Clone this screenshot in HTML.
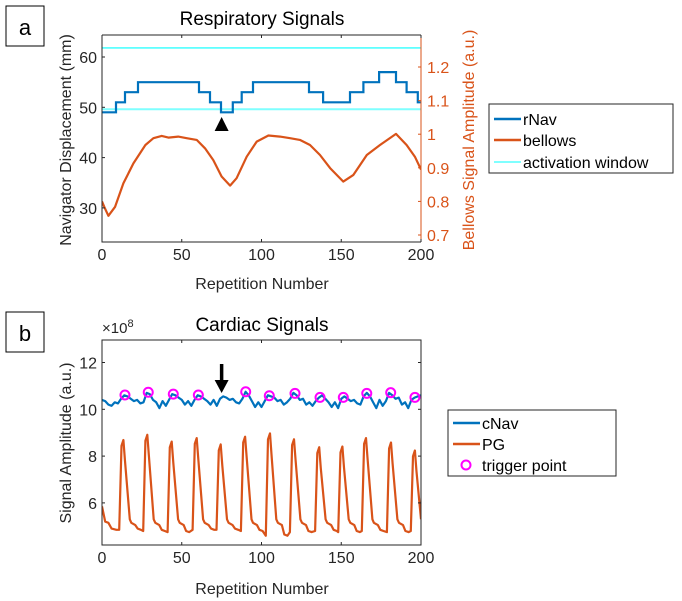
<!DOCTYPE html>
<html><head><meta charset="utf-8"><style>
body{margin:0;background:#fff;}
svg{display:block;font-family:"Liberation Sans","Noto Sans CJK JP",sans-serif;}
</style></head><body>
<svg id="fig" width="682" height="601" viewBox="0 0 682 601">
<rect x="6" y="6" width="38" height="40" fill="#fff" stroke="#000" stroke-width="1"/>
<text x="25" y="35" font-size="22" text-anchor="middle">a</text>
<rect x="6" y="312" width="38" height="40" fill="#fff" stroke="#000" stroke-width="1"/>
<text x="25" y="341" font-size="22" text-anchor="middle">b</text>
<text x="262" y="25" font-size="19" text-anchor="middle">Respiratory Signals</text>
<text x="262" y="331" font-size="19" text-anchor="middle">Cardiac Signals</text>
<text x="262" y="289" font-size="16" text-anchor="middle" fill="#262626">Repetition Number</text>
<text x="262" y="594" font-size="16" text-anchor="middle" fill="#262626">Repetition Number</text>
<text transform="translate(71,140) rotate(-90)" font-size="16" text-anchor="middle" fill="#262626">Navigator Displacement (mm)</text>
<text transform="translate(474,140) rotate(-90)" font-size="16" text-anchor="middle" fill="#D95319">Bellows Signal Amplitude (a.u.)</text>
<text transform="translate(71,443) rotate(-90)" font-size="16" text-anchor="middle" fill="#262626">Signal Amplitude (a.u.)</text>
<text x="102" y="333" font-size="15" fill="#262626">×10<tspan font-size="11" dy="-6">8</tspan></text>
<g id="top"></g>
<g id="bot"></g>
<g>
<rect x="489" y="104" width="184" height="69" fill="#fff" stroke="#262626" stroke-width="1"/>
<line x1="494" y1="119" x2="521" y2="119" stroke="#0072BD" stroke-width="2.5"/>
<text x="523" y="125" font-size="16">rNav</text>
<line x1="494" y1="140" x2="521" y2="140" stroke="#D95319" stroke-width="2.5"/>
<text x="523" y="146" font-size="16">bellows</text>
<line x1="494" y1="162" x2="521" y2="162" stroke="#7FFFFF" stroke-width="2"/>
<text x="523" y="168" font-size="16">activation window</text>
</g>
<g>
<rect x="448" y="410" width="168" height="66" fill="#fff" stroke="#262626" stroke-width="1"/>
<line x1="453" y1="423" x2="480" y2="423" stroke="#0072BD" stroke-width="2.5"/>
<text x="482" y="429" font-size="16">cNav</text>
<line x1="453" y1="444" x2="480" y2="444" stroke="#D95319" stroke-width="2.5"/>
<text x="482" y="450" font-size="16">PG</text>
<circle cx="466" cy="465" r="4.5" fill="none" stroke="#FF00FF" stroke-width="2"/>
<text x="482" y="471" font-size="16">trigger point</text>
</g>
</svg>
<script>
const xTicks=[0,50,100,150,200];
const leftTicksTop=[30,40,50,60];
const rightTicksTop=[0.7,0.8,0.9,1.0,1.1,1.2];
const rightTickLabels=["0.7","0.8","0.9","1","1.1","1.2"];
const windowLevels=[61.8,49.6];
const rnavStepReps=[0,8.8,14.4,22.6,60.8,67.7,74.6,82,87.6,94.7,129.8,138.6,155.5,163.9,173.7,184.3,191,198,200];
const rnavStepVals=[49,51,53,55,53,51,49,51,53,55,53,51,53,55,57,55,53,51,51];
const bellowsReps=[0,1.9,4,8.2,13.4,19.7,27.2,32.2,37.4,41.6,47.8,53.1,59.4,64.6,69.8,75,80.3,84.4,90.7,97,104.3,111.6,117.9,124.1,130.4,136.7,143,151.3,157.6,166,174.3,184.3,191,196.2,200];
const bellowsVals=[0.80,0.779,0.757,0.784,0.854,0.913,0.968,0.988,0.995,0.990,0.993,0.988,0.983,0.958,0.923,0.874,0.847,0.869,0.933,0.978,0.996,0.993,0.988,0.983,0.968,0.938,0.899,0.859,0.879,0.938,0.968,1.001,0.968,0.933,0.895];
const triggerReps=[14.4,29,44.7,60.4,90.1,104.9,121,136.7,151.3,166,181,196.2];
const triggerVals=[10.61,10.73,10.65,10.61,10.75,10.58,10.68,10.51,10.51,10.68,10.71,10.51];
const cnavVals=[10.4,10.35,10.2,10.15,10.3,10.25,10.45,10.6,10.55,10.45,10.35,10.4,10.25,10.3,10.7,10.65,10.4,10.3,10.05,10.35,10.15,10.4,10.65,10.6,10.5,10.4,10.2,10.35,10.15,10.4,10.6,10.55,10.45,10.35,10.2,10.4,10.15,10.45,10.55,10.5,10.4,10.45,10.3,10.25,10.45,10.75,10.6,10.35,10.1,10.3,10.1,10.35,10.6,10.55,10.5,10.35,10.4,10.2,10.3,10.45,10.7,10.6,10.4,10.45,10.2,10.3,10.15,10.35,10.5,10.6,10.45,10.3,10.1,10.3,10.05,10.45,10.55,10.45,10.35,10.4,10.25,10.2,10.55,10.7,10.55,10.3,10.05,10.4,10.15,10.35,10.7,10.6,10.45,10.5,10.2,10.3,10.05,10.4,10.5,10.55,10.6];
const pgPeakReps=[13.4,28.4,43.7,59.4,74.4,89.7,105.3,120.4,136.2,150.7,165.5,181.2,196.2];
const pgPeakVals=[8.69,8.91,8.62,8.77,8.50,8.83,8.97,8.72,8.38,8.41,8.77,8.58,8.24];
const pgTroughVals=[4.85,4.8,4.75,4.85,4.85,4.8,4.6,4.75,4.8,4.75,4.8,4.75,4.8];
const leftTicksBot=[6,8,10,12];

const NS="http://www.w3.org/2000/svg";
function mk(p,t,a){const e=document.createElementNS(NS,t);for(const k in a)e.setAttribute(k,a[k]);p.appendChild(e);return e;}
const X0=102,X1=421;
const xs=v=>X0+(v/200)*(X1-X0);
const yT=v=>57+(60-v)*5.03;
const yR=v=>67+(1.2-v)*336;
const yB=v=>409.3+(10-v)*23.4;
const TT=35,TB=242,BT=340,BB=545;
const T=document.getElementById('top');
const B=document.getElementById('bot');
const defs=mk(document.getElementById('fig'),'defs',{});
const c1=mk(defs,'clipPath',{id:'c1'});mk(c1,'rect',{x:X0,y:TT,width:X1-X0,height:TB-TT});
const c2=mk(defs,'clipPath',{id:'c2'});mk(c2,'rect',{x:X0,y:BT,width:X1-X0,height:BB-BT});

function xAxis(g,top,bot){
  xTicks.forEach(t=>{
    const x=xs(t);
    mk(g,'line',{x1:x,x2:x,y1:bot,y2:bot-3,stroke:'#262626','stroke-width':1});
    mk(g,'line',{x1:x,x2:x,y1:top,y2:top+3,stroke:'#262626','stroke-width':1});
    const tx=mk(g,'text',{x:x,y:bot+18,'font-size':16,'text-anchor':'middle',fill:'#262626'});
    tx.textContent=t;
    
    
  });
}
// top panel
function path(pts){return pts.map((p,i)=>(i?'L':'M')+p[0].toFixed(1)+','+p[1].toFixed(1)).join('');}
const topData=mk(T,'g',{'clip-path':'url(#c1)'});
windowLevels.forEach((w,i)=>{
  const l=mk(topData,'line',{x1:X0,x2:X1,y1:yT(w),y2:yT(w),stroke:i==0?'#00FFFF':'#7FFFFF','stroke-width':i==0?1.2:2});
  
  
});
let rp=[];
for(let i=0;i<rnavStepReps.length;i++){
  const y=yT(rnavStepVals[i]);
  if(i>0)rp.push([xs(rnavStepReps[i]),yT(rnavStepVals[i-1])]);
  rp.push([xs(rnavStepReps[i]),y]);
}
const rl=mk(topData,'path',{d:path(rp),fill:'none',stroke:'#0072BD','stroke-width':2.2});


const bl=mk(topData,'path',{d:path(bellowsReps.map((r,i)=>[xs(r),yR(bellowsVals[i])])),fill:'none',stroke:'#D95319','stroke-width':2.2,'stroke-linejoin':'round'});


const tri=mk(T,'polygon',{points:`${xs(75)},117 ${xs(75)-7},131 ${xs(75)+7},131`,fill:'#000'});


mk(T,'path',{d:`M${X0},${TT}V${TB}H${X1}M${X0},${TT}H${X1}`,fill:'none',stroke:'#262626','stroke-width':1});
mk(T,'line',{x1:X1,x2:X1,y1:TT,y2:TB,stroke:'#D95319','stroke-width':1});
xAxis(T,TT,TB);
leftTicksTop.forEach(t=>{
  const y=yT(t);
  mk(T,'line',{x1:X0,x2:X0+3,y1:y,y2:y,stroke:'#262626'});
  const tx=mk(T,'text',{x:X0-5,y:y+6,'font-size':16,'text-anchor':'end',fill:'#262626'});
  tx.textContent=t;
  
  
});
rightTicksTop.forEach((t,i)=>{
  const y=yR(t);
  mk(T,'line',{x1:X1,x2:X1-3,y1:y,y2:y,stroke:'#D95319'});
  const tx=mk(T,'text',{x:X1+6,y:y+6,'font-size':16,fill:'#D95319'});
  tx.textContent=rightTickLabels[i];
  
  
});
// bottom panel
const botData=mk(B,'g',{'clip-path':'url(#c2)'});
let pg=[[0,5.85],[2,5.2],[4,5.15],[6,4.9],[9,4.85]];
pgPeakReps.forEach((p,i)=>{
  const h=pgPeakVals[i],tr=pgTroughVals[i];
  pg.push([p-2.6,tr],[p-1.2,h-0.25],[p,h],[p+1,h-0.9],[p+4,5.3],[p+5,5.15],[p+7.5,5.05],[p+9,tr+0.05],[p+11,tr]);
});
pg=pg.filter(q=>q[0]<=200);
pg.push([200,5.3]);
const pl=mk(botData,'path',{d:path(pg.map(q=>[xs(q[0]),yB(q[1])])),fill:'none',stroke:'#D95319','stroke-width':2.2,'stroke-linejoin':'round'});


const cl=mk(botData,'path',{d:path(cnavVals.map((v,i)=>[xs(i*2),yB(v)])),fill:'none',stroke:'#0072BD','stroke-width':2.2,'stroke-linejoin':'round'});


triggerReps.forEach((r,i)=>{
  const c=mk(B,'circle',{cx:xs(r),cy:yB(triggerVals[i]),r:4.5,fill:'none',stroke:'#FF00FF','stroke-width':2});
  
  
});
const ar=mk(B,'g',{});


mk(ar,'line',{x1:xs(75),x2:xs(75),y1:364,y2:382,stroke:'#000','stroke-width':3.5});
mk(ar,'polygon',{points:`${xs(75)-7},380 ${xs(75)+7},380 ${xs(75)},393`,fill:'#000'});
mk(B,'rect',{x:X0,y:BT,width:X1-X0,height:BB-BT,fill:'none',stroke:'#262626','stroke-width':1});
xAxis(B,BT,BB);
leftTicksBot.forEach(t=>{
  const y=yB(t);
  mk(B,'line',{x1:X0,x2:X0+3,y1:y,y2:y,stroke:'#262626'});
  mk(B,'line',{x1:X1,x2:X1-3,y1:y,y2:y,stroke:'#262626'});
  const tx=mk(B,'text',{x:X0-5,y:y+6,'font-size':16,'text-anchor':'end',fill:'#262626'});
  tx.textContent=t;
  
  
});
</script>
</body></html>
